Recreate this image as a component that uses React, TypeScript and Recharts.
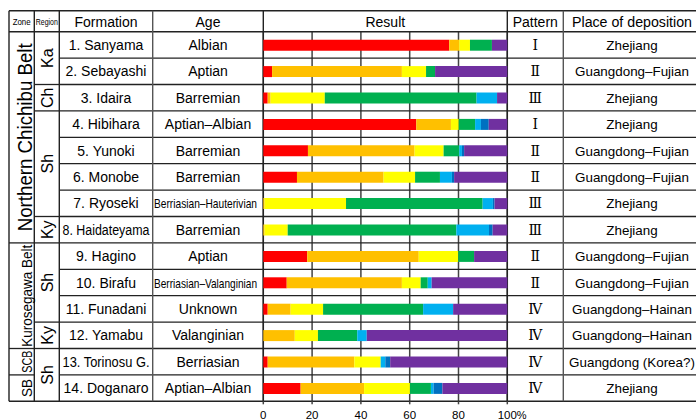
import React from 'react';
import { BarChart, Bar, XAxis, YAxis, CartesianGrid, Customized } from 'recharts';

const formations = ['1. Sanyama', '2. Sebayashi', '3. Idaira', '4. Hibihara', '5. Yunoki', '6. Monobe', '7. Ryoseki', '8. Haidateyama', '9. Hagino', '10. Birafu', '11. Funadani', '12. Yamabu', '13. Torinosu G.', '14. Doganaro'];
const ages = ['Albian', 'Aptian', 'Barremian', 'Aptian–Albian', 'Barremian', 'Barremian', 'Berriasian–Hauterivian', 'Barremian', 'Aptian', 'Berriasian–Valanginian', 'Unknown', 'Valanginian', 'Berriasian', 'Aptian–Albian'];
const patterns = ['Ⅰ', 'Ⅱ', 'Ⅲ', 'Ⅰ', 'Ⅱ', 'Ⅱ', 'Ⅲ', 'Ⅲ', 'Ⅱ', 'Ⅱ', 'Ⅳ', 'Ⅳ', 'Ⅳ', 'Ⅳ'];
const places = ['Zhejiang', 'Guangdong–Fujian', 'Zhejiang', 'Zhejiang', 'Guangdong–Fujian', 'Guangdong–Fujian', 'Zhejiang', 'Zhejiang', 'Guangdong–Fujian', 'Guangdong–Fujian', 'Guangdong–Hainan', 'Guangdong–Hainan', 'Guangdong (Korea?)', 'Zhejiang'];

const red = [76.2, 3.6, 1.8, 62.7, 18.3, 13.8, 0, 0, 18.0, 9.6, 1.8, 0, 1.8, 15.3];
const orange = [4.1, 53.2, 1.2, 14.2, 43.7, 35.5, 0.5, 0.5, 45.7, 47.2, 9.4, 12.9, 35.5, 26.0];
const yellow = [4.4, 9.9, 22.2, 3.2, 11.9, 12.9, 33.4, 9.5, 16.2, 7.7, 13.3, 9.5, 10.8, 18.8];
const green = [9.0, 3.7, 62.2, 6.7, 6.4, 10.2, 56.0, 69.1, 6.5, 2.9, 41.0, 16.1, 0, 8.6];
const lightBlue = [0, 0, 8.4, 2.4, 1.1, 4.9, 4.2, 13.4, 0, 1.6, 12.3, 3.9, 1.9, 1.1];
const blue = [0, 0, 0, 3.2, 0.9, 0.9, 0.7, 1.5, 0, 0, 0, 0, 2.0, 3.6];
const purple = [6.3, 29.6, 4.2, 7.6, 17.7, 21.8, 5.2, 6.0, 13.6, 31.0, 22.2, 57.6, 48.0, 26.6];

const xTicks = [0, 20, 40, 60, 80, 100];

const zones = [
  { label: 'Northern Chichibu Belt', from: 0, to: 8, size: 20, len: 188 },
  { label: 'Kurosegawa Belt', from: 8, to: 12, size: 14, len: 102 },
  { label: 'SCB', from: 12, to: 13, size: 14, len: 22 },
  { label: 'SB', from: 13, to: 14, size: 14, len: 18 },
];
const regions: [string, number, number][] = [
  ['Ka', 0, 2], ['Ch', 2, 3], ['Sh', 3, 7], ['Ky', 7, 8], ['Sh', 8, 11], ['Ky', 11, 12], ['Sh', 12, 14],
];

const series = [
  { key: 'red', color: '#FF0000', values: red },
  { key: 'orange', color: '#FFC000', values: orange },
  { key: 'yellow', color: '#FFFF00', values: yellow },
  { key: 'green', color: '#00B050', values: green },
  { key: 'lightBlue', color: '#00B0F0', values: lightBlue },
  { key: 'blue', color: '#0070C0', values: blue },
  { key: 'purple', color: '#7030A0', values: purple },
];

const data = formations.map((f, i) => {
  const row: any = { name: f };
  series.forEach((s) => { row[s.key] = s.values[i]; });
  return row;
});

const W = 696;
const H = 420;
const TABLE_TOP = 10.7;
const HEAD_BOTTOM = 31.7;
const BOTTOM = 401.3;
const N = formations.length;
const ROW_H = (BOTTOM - HEAD_BOTTOM) / N;
const COLS = [9, 34.3, 59.3, 152.7, 263.3, 507.3, 563.3];
const PLACE_RIGHT = 700.7;
const PLOT_LEFT = COLS[4];
const PLOT_RIGHT = COLS[5];

const FONT = "'Liberation Sans', Arial, sans-serif";
const LINE = '#222';

const rowY = (k: number) => HEAD_BOTTOM + ROW_H * k;

const TableOverlay = () => {
  const lines: any[] = [];
  [TABLE_TOP, HEAD_BOTTOM, BOTTOM].forEach((y, i) => {
    lines.push(<line key={'hf' + i} x1={COLS[0]} x2={W} y1={y} y2={y} stroke={LINE} strokeWidth={1.4} />);
  });
  const zoneBreaks = zones.slice(1).map((z) => z.from);
  const regionBreaks = regions.slice(1).map((r) => r[1]);
  for (let k = 1; k < N; k++) {
    const y = rowY(k);
    lines.push(<line key={'r' + k} x1={COLS[2]} x2={W} y1={y} y2={y} stroke={LINE} strokeWidth={1.3} />);
    if (regionBreaks.includes(k)) lines.push(<line key={'rg' + k} x1={COLS[1]} x2={COLS[2]} y1={y} y2={y} stroke={LINE} strokeWidth={1.3} />);
    if (zoneBreaks.includes(k)) lines.push(<line key={'zn' + k} x1={COLS[0]} x2={COLS[1]} y1={y} y2={y} stroke={LINE} strokeWidth={1.3} />);
  }
  COLS.forEach((x, i) => {
    const gray = i === 3 || i === 6;
    lines.push(<line key={'v' + i} x1={x} x2={x} y1={TABLE_TOP} y2={BOTTOM} stroke={gray ? '#555' : LINE} strokeWidth={1.4} />);
  });

  const texts: any[] = [];
  const headY = 26.5;
  const center = (a: number, b: number) => (a + b) / 2;
  texts.push(<text key="hz" x={center(COLS[0], COLS[1])} y={25} fontSize={9} textAnchor="middle" textLength={18} lengthAdjust="spacingAndGlyphs" fontFamily={FONT}>Zone</text>);
  texts.push(<text key="hr" x={center(COLS[1], COLS[2])} y={25} fontSize={9} textAnchor="middle" textLength={22} lengthAdjust="spacingAndGlyphs" fontFamily={FONT}>Region</text>);
  const heads = ['Formation', 'Age', 'Result', 'Pattern', 'Place of deposition'];
  heads.forEach((h, i) => {
    const x1 = COLS[2 + i];
    const x2 = i + 3 < COLS.length ? COLS[3 + i] : PLACE_RIGHT;
    texts.push(<text key={'h' + i} x={center(x1, x2)} y={headY} fontSize={14} textAnchor="middle" fontFamily={FONT}
      {...(i === 4 ? { textLength: 120, lengthAdjust: 'spacingAndGlyphs' } : {})}>{h}</text>);
  });
  for (let r = 0; r < N; r++) {
    const cy = rowY(r + 0.5) + 5;
    const longF = formations[r].length > 13;
    texts.push(<text key={'f' + r} x={center(COLS[2], COLS[3])} y={cy} fontSize={14} textAnchor="middle" fontFamily={FONT}
      {...(longF ? { textLength: 87, lengthAdjust: 'spacingAndGlyphs' } : {})}>{formations[r]}</text>);
    const long = ages[r].length > 16;
    texts.push(
      <text key={'a' + r} x={center(COLS[3], COLS[4]) + (long ? -2.5 : 0)} y={cy} fontSize={long ? 13 : 14} textAnchor="middle" fontFamily={FONT}
        {...(long ? { textLength: 103, lengthAdjust: 'spacingAndGlyphs' } : {})}>{ages[r]}</text>
    );
    texts.push(<text key={'p' + r} x={center(COLS[5], COLS[6])} y={cy} fontSize={14} textAnchor="middle" fontFamily="'DejaVu Serif', 'Liberation Serif', serif">{patterns[r]}</text>);
    texts.push(<text key={'pl' + r} x={center(COLS[6], PLACE_RIGHT)} y={cy} fontSize={13.4} textAnchor="middle" fontFamily={FONT}>{places[r]}</text>);
  }
  zones.forEach((z, i) => {
    const cy = rowY((z.from + z.to) / 2);
    const bx = 32.5;
    texts.push(<text key={'z' + i} x={bx} y={cy} fontSize={z.size} textAnchor="middle" textLength={z.len} lengthAdjust="spacingAndGlyphs" fontFamily={FONT} transform={`rotate(-90, ${bx}, ${cy})`}>{z.label}</text>);
  });
  regions.forEach((rg, i) => {
    const cy = rowY((rg[1] + rg[2]) / 2);
    const bx = 53.3;
    texts.push(<text key={'rgt' + i} x={bx} y={cy} fontSize={16} textAnchor="middle" fontFamily={FONT} transform={`rotate(-90, ${bx}, ${cy})`}>{rg[0]}</text>);
  });
  return <g>{lines}{texts}</g>;
};

const XTick = (props: any) => {
  const { x, y, payload } = props;
  const v = payload.value;
  return (
    <g>
      <text x={x} y={y} dy={12.5} fontSize={11.5} textAnchor="middle" fontFamily={FONT} fill="#000">{String(v)}</text>
      {v === 100 ? <text x={x + 9.5} y={y} dy={12.5} fontSize={11} textAnchor="start" fontFamily={FONT} fill="#000">%</text> : null}
    </g>
  );
};

export default function App() {
  return (
    <div style={{ position: 'absolute', left: 0, top: 0, width: W, height: H, background: '#fff' }}>
      <BarChart
        width={W}
        height={H}
        data={data}
        layout="vertical"
        barCategoryGap={0}
        margin={{ top: HEAD_BOTTOM, right: W - PLOT_RIGHT, bottom: 0, left: PLOT_LEFT }}
      >
        <CartesianGrid horizontal={false} stroke="#444" strokeWidth={1.5} />
        <XAxis
          type="number"
          domain={[0, 100]}
          ticks={xTicks}
          height={H - BOTTOM}
          axisLine={false}
          tickSize={3}
          tickLine={{ stroke: '#444', strokeWidth: 1.5 }}
          tick={<XTick />}
          interval={0}
        />
        <YAxis type="category" dataKey="name" hide width={0} />
        {series.map((s) => (
          <Bar key={s.key} dataKey={s.key} stackId="a" fill={s.color} barSize={11} isAnimationActive={false} />
        ))}
        <Customized component={TableOverlay} />
      </BarChart>
    </div>
  );
}
